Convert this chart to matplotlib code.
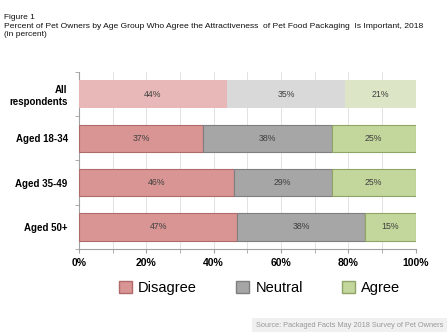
import matplotlib.pyplot as plt
from matplotlib.patches import Patch

# Data
groups = ["All\nrespondents", "Aged 18-34", "Aged 35-49", "Aged 50+"]
disagree = [44, 37, 46, 47]
neutral = [35, 38, 29, 38]
agree = [21, 25, 25, 15]

series_names = ["Disagree", "Neutral", "Agree"]
colors = ["#D99594", "#A6A6A6", "#C3D69B"]
faded = ["#E8B8B8", "#D9D9D9", "#DCE6C6"]
edges = ["#B06A6A", "#7F7F7F", "#8FA568"]

plt.rcParams["font.family"] = ["Liberation Sans", "DejaVu Sans"]

fig = plt.figure(figsize=(4.48, 3.36), dpi=100)
ax = fig.add_axes([0.176, 0.259, 0.752, 0.527])

ypos = list(range(len(groups)))
left = [0] * len(groups)
for k, values in enumerate([disagree, neutral, agree]):
    for i, v in enumerate(values):
        if i == 0:
            ax.barh(i, v, left=left[i], height=0.62, color=faded[k], edgecolor="none", zorder=3)
        else:
            ax.barh(i, v, left=left[i], height=0.62, color=colors[k],
                    edgecolor=edges[k], linewidth=0.8, zorder=3)
        ax.text(left[i] + v / 2, i, f"{v}%", ha="center", va="center",
                fontsize=6.3, color="#404040", zorder=4)
        left[i] += v

ax.set_xlim(0, 100)
ax.set_ylim(3.5, -0.5)
ax.set_xticks(range(0, 101, 20))
ax.set_xticklabels([f"{t}%" for t in range(0, 101, 20)], fontsize=7.5, fontweight="bold")
ax.set_xticks(range(0, 101, 10), minor=True)
ax.grid(axis="x", which="both", color="#DDDDDD", linewidth=0.6, zorder=0)
ax.set_yticks(ypos)
ax.set_yticklabels(groups, fontsize=7, fontweight="bold")
ax.set_yticks([-0.5, 0.5, 1.5, 2.5, 3.5], minor=True)
ax.tick_params(axis="y", which="major", length=0, pad=8)
ax.tick_params(axis="y", which="minor", length=3, color="#A0A0A0")
ax.tick_params(axis="x", which="both", length=3, color="#A0A0A0")
for side in ["top", "right"]:
    ax.spines[side].set_visible(False)
for side in ["left", "bottom"]:
    ax.spines[side].set_color("#A0A0A0")
    ax.spines[side].set_linewidth(0.8)

handles = [Patch(facecolor=colors[k], edgecolor=edges[k], label=series_names[k]) for k in range(3)]
fig.legend(handles=handles, loc="center", bbox_to_anchor=(0.58, 0.143), ncol=3,
           frameon=False, fontsize=10.5, columnspacing=2.7, handlelength=0.85,
           handleheight=0.9, handletextpad=0.45)

fig.text(0.009, 0.943, "Figure 1", fontsize=6, color="#111111")
fig.text(0.009, 0.918, "Percent of Pet Owners by Age Group Who Agree the Attractiveness  of Pet Food Packaging  Is Important, 2018",
         fontsize=6.1, color="#111111")
fig.text(0.009, 0.893, "(in percent)", fontsize=6, color="#111111")

fig.text(0.99, 0.032, "Source: Packaged Facts May 2018 Survey of Pet Owners", ha="right",
         va="center", fontsize=5.3, color="#999999",
         bbox=dict(boxstyle="square,pad=0.5", facecolor="#F0F0F0", edgecolor="none"))

fig.savefig("out.png", dpi=100)
